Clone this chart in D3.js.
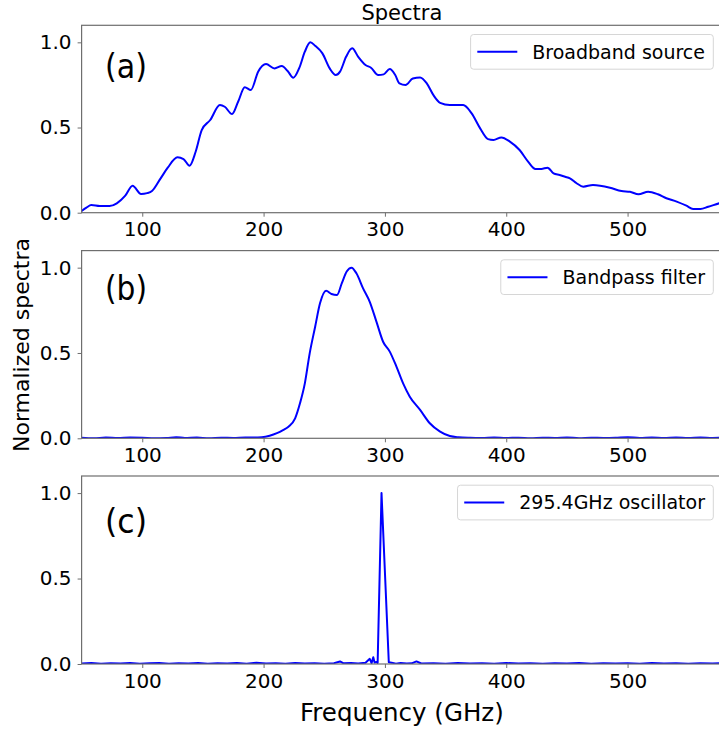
<!DOCTYPE html>
<html>
<head>
<meta charset="utf-8">
<script src="https://cdn.jsdelivr.net/npm/d3@7"></script>
<style>
  html, body { margin: 0; padding: 0; background: #fff; }
  svg { display: block; }
  text { font-family: "DejaVu Sans", sans-serif; fill: #000; }
</style>
</head>
<body>
<svg id="chart" width="719" height="732"></svg>
<script>
// ---------------- DATA ----------------
const titleText = "Spectra";
const xLabel = "Frequency (GHz)";
const yLabel = "Normalized spectra";
const xTicks = [100, 200, 300, 400, 500];
const yTicks = [0.0, 0.5, 1.0];
const xDomain = [50, 578];
const yDomain = [0, 1.1];

const panelLabels = ["(a)", "(b)", "(c)"];
const legendNames = ["Broadband source", "Bandpass filter", "295.4GHz oscillator"];

// (a) broadband source
const freqA = [50, 54, 58, 65, 73, 79, 86, 92, 99, 104, 108, 115, 121, 129, 134, 139, 144, 149, 156, 164, 168, 174, 179, 184.5, 189.5, 195.5, 202, 209, 215, 220, 224.5, 229.5, 234, 238.5, 242.5, 248.5, 254.5, 259.5, 263, 268, 273, 278, 284, 288.5, 294.5, 299, 304, 308.5, 312, 317, 323, 329, 334.5, 340, 345.5, 353.5, 364.5, 371.5, 378.5, 385, 389.5, 396, 403, 411, 418, 424, 429, 434, 439, 444, 448.5, 452.5, 458, 463.5, 471.5, 485.5, 495, 502, 509, 517, 525, 532, 540.5, 548.5, 554, 560, 566.5, 575.5, 578];
const valsA = [0.01, 0.03, 0.045, 0.039, 0.039, 0.055, 0.10, 0.158, 0.11, 0.115, 0.127, 0.20, 0.264, 0.325, 0.315, 0.276, 0.358, 0.485, 0.544, 0.632, 0.622, 0.579, 0.651, 0.736, 0.72, 0.828, 0.873, 0.847, 0.861, 0.83, 0.792, 0.851, 0.945, 1.0, 0.98, 0.935, 0.847, 0.808, 0.828, 0.915, 0.965, 0.915, 0.867, 0.851, 0.808, 0.812, 0.843, 0.808, 0.759, 0.749, 0.788, 0.794, 0.759, 0.69, 0.645, 0.632, 0.632, 0.583, 0.495, 0.432, 0.427, 0.442, 0.417, 0.368, 0.30, 0.257, 0.257, 0.264, 0.231, 0.221, 0.211, 0.202, 0.173, 0.153, 0.163, 0.147, 0.127, 0.123, 0.108, 0.123, 0.108, 0.085, 0.065, 0.041, 0.022, 0.022, 0.035, 0.055, 0.06];

// (b) bandpass filter
const freqB = [50, 60, 70, 80, 90, 100, 110, 120, 128, 135, 145, 155, 165, 175, 185, 192, 198.5, 205, 211, 216, 220.5, 226, 230, 234, 238, 242.5, 246.5, 251.5, 256, 260.5, 264.5, 268.5, 272.5, 276.5, 282, 287.5, 293, 298.5, 304, 309.5, 315, 320.5, 329, 337, 345.5, 353.5, 360.5, 370, 380, 390, 400, 410, 420, 430, 440, 450, 460, 470, 480, 490, 500, 510, 520, 530, 540, 550, 560, 570, 578];
const valsB = [0.003, 0.0, 0.004, 0.002, 0.004, 0.003, 0.0, 0.002, 0.006, 0.002, 0.004, 0.001, 0.003, 0.002, 0.004, 0.004, 0.006, 0.015, 0.03, 0.048, 0.068, 0.117, 0.205, 0.322, 0.498, 0.654, 0.791, 0.865, 0.846, 0.84, 0.909, 0.977, 1.0, 0.967, 0.879, 0.80, 0.684, 0.566, 0.508, 0.42, 0.322, 0.244, 0.166, 0.088, 0.039, 0.013, 0.006, 0.003, 0.002, 0.004, 0.002, 0.003, 0.001, 0.003, 0.002, 0.004, 0.001, 0.003, 0.002, 0.003, 0.006, 0.002, 0.004, 0.002, 0.005, 0.002, 0.004, 0.002, 0.003];

// (c) 295.4 GHz oscillator
const freqC = [50, 58, 66, 74, 82, 90, 98, 106, 114, 122, 130, 138, 146, 154, 162, 170, 178, 186, 194, 202, 210, 218, 226, 234, 242, 250, 258, 263, 266, 272, 278, 284, 287.5, 289, 290.4, 291.5, 293, 294, 297.2, 303.2, 305.6, 309, 313, 318, 322, 326, 330, 340, 350, 360, 370, 380, 390, 400, 410, 420, 430, 440, 450, 460, 470, 480, 490, 500, 510, 520, 530, 540, 550, 560, 570, 578];
const valsC = [0.003, 0.006, 0.002, 0.005, 0.003, 0.006, 0.002, 0.004, 0.006, 0.002, 0.005, 0.003, 0.006, 0.002, 0.005, 0.003, 0.006, 0.002, 0.007, 0.003, 0.004, 0.002, 0.006, 0.003, 0.004, 0.002, 0.005, 0.015, 0.004, 0.006, 0.003, 0.008, 0.03, 0.005, 0.04, 0.008, 0.012, 0.006, 1.0, 0.01, 0.008, 0.002, 0.006, 0.003, 0.004, 0.015, 0.003, 0.005, 0.002, 0.006, 0.003, 0.005, 0.002, 0.006, 0.003, 0.004, 0.002, 0.005, 0.003, 0.006, 0.002, 0.004, 0.003, 0.005, 0.002, 0.006, 0.003, 0.004, 0.002, 0.005, 0.003, 0.004];

// ---------------- LAYOUT ----------------
const W = 719, H = 732;
const left = 81.6, right = 722.2;
const panels = [
  { top: 25.3, bottom: 212.7, freq: freqA, vals: valsA, curve: d3.curveMonotoneX, labelY: 78 },
  { top: 250.6, bottom: 438.3, freq: freqB, vals: valsB, curve: d3.curveMonotoneX, labelY: 300 },
  { top: 476.0, bottom: 664.0, freq: freqC, vals: valsC, curve: d3.curveLinear, labelY: 533 }
];
const lineColor = "#0000ff";
const spineColor = "#6e6e6e";

const svg = d3.select("#chart");
svg.append("rect").attr("width", W).attr("height", H).attr("fill", "#fff");

const x = d3.scaleLinear().domain(xDomain).range([left, right]);

panels.forEach((p, i) => {
  const y = d3.scaleLinear().domain(yDomain).range([p.bottom, p.top]);
  const g = svg.append("g");

  const clipId = "clip" + i;
  svg.append("clipPath").attr("id", clipId)
    .append("rect").attr("x", left).attr("y", p.top)
    .attr("width", right - left).attr("height", p.bottom - p.top);

  const data = p.freq.map((f, k) => [f, p.vals[k]]);
  const line = d3.line().x(d => x(d[0])).y(d => y(d[1])).curve(p.curve);
  g.append("path").datum(data)
    .attr("clip-path", `url(#${clipId})`)
    .attr("fill", "none").attr("stroke", lineColor)
    .attr("stroke-width", 2).attr("stroke-linejoin", "round")
    .attr("d", line);

  // axes
  const xa = g.append("g").attr("transform", `translate(0,${p.bottom})`)
    .call(d3.axisBottom(x).tickValues(xTicks).tickFormat(d3.format("d")).tickSize(4).tickPadding(5.5));
  const ya = g.append("g").attr("transform", `translate(${left},0)`)
    .call(d3.axisLeft(y).tickValues(yTicks).tickFormat(d3.format(".1f")).tickSize(4).tickPadding(6));
  [xa, ya].forEach(a => {
    a.select(".domain").remove();
    a.selectAll(".tick line").attr("stroke", spineColor).attr("stroke-width", 1);
    a.selectAll(".tick text").attr("font-size", 20).attr("font-family", "DejaVu Sans").attr("fill", "#000");
  });

  // spines
  g.append("rect").attr("x", left).attr("y", p.top)
    .attr("width", right - left).attr("height", p.bottom - p.top)
    .attr("fill", "none").attr("stroke", spineColor).attr("stroke-width", 1.2);

  // panel label
  g.append("text").attr("x", 105).attr("y", p.labelY)
    .attr("font-family", "'Open Sans', sans-serif").attr("font-size", 33)
    .attr("textLength", 42).attr("lengthAdjust", "spacingAndGlyphs")
    .text(panelLabels[i]);

  // legend
  const lg = g.append("g");
  const boxTop = p.top + 9.2, boxH = 34.7, boxRight = 713.3;
  const box = lg.append("rect").attr("y", boxTop).attr("height", boxH)
    .attr("rx", 3).attr("fill", "#fff").attr("fill-opacity", 0.8)
    .attr("stroke", "#d6d6d6").attr("stroke-width", 1);
  const txt = lg.append("text").attr("font-size", 19).attr("y", boxTop + boxH / 2 + 6.9)
    .text(legendNames[i]);
  const tw = txt.node().getComputedTextLength();
  const textStart = boxRight - 8.3 - tw;
  const boxLeft = textStart - 61.7;
  txt.attr("x", textStart);
  box.attr("x", boxLeft).attr("width", boxRight - boxLeft);
  lg.append("line").attr("x1", boxLeft + 6.7).attr("x2", boxLeft + 46.7)
    .attr("y1", boxTop + boxH / 2).attr("y2", boxTop + boxH / 2)
    .attr("stroke", lineColor).attr("stroke-width", 2);
});

// title
svg.append("text").attr("x", (left + right) / 2).attr("y", 20)
  .attr("text-anchor", "middle").attr("font-size", 21).text(titleText);

// x label
svg.append("text").attr("x", (left + right) / 2).attr("y", 721)
  .attr("text-anchor", "middle").attr("font-size", 24.5).text(xLabel);

// y label
svg.append("text").attr("transform", "translate(29,345) rotate(-90)")
  .attr("text-anchor", "middle").attr("font-size", 22).text(yLabel);
</script>
</body>
</html>
